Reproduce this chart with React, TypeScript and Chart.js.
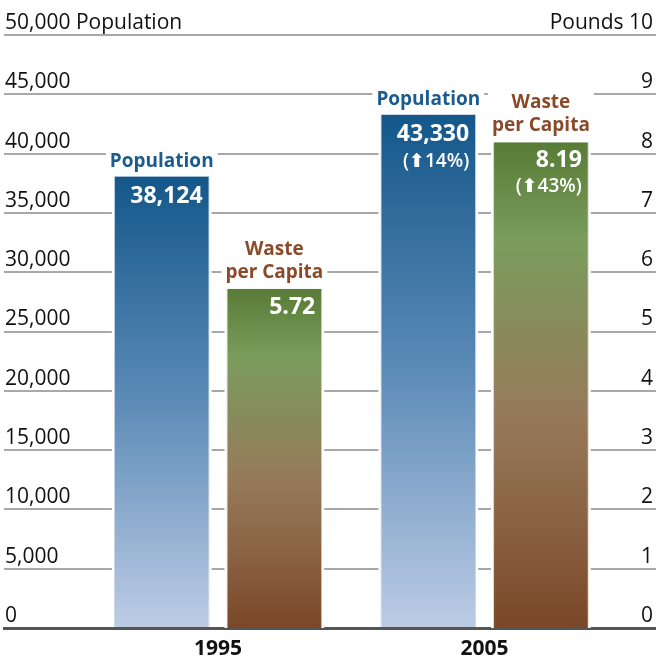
import React, { useEffect, useRef } from 'react';
import { Chart, registerables } from 'chart.js';

Chart.register(...registerables);

// ---- data ----
const years = [1995, 2005];
const population = [38124, 43330];
const wastePerCapita = [5.72, 8.19];
const populationText = ['38,124', '43,330'];
const wasteText = ['5.72', '8.19'];
const populationChange = ['', '14%'];
const wasteChange = ['', '43%'];
const populationName = 'Population';
const wasteNameLines = ['Waste', 'per Capita'];
const leftTopLabel = '50,000 Population';
const rightTopLabel = 'Pounds 10';

const FONT = '"Open Sans", "DejaVu Sans", sans-serif';
const POP_COLOR = '#1b5b8d';
const WASTE_COLOR = '#8a4a2a';

function popFill(ctx: any) {
  const chart = ctx.chart;
  const s = chart.scales && chart.scales.y;
  if (!s || ctx.type !== 'data') return '#5c8bb7';
  const top = s.getPixelForValue(population[ctx.dataIndex]);
  const base = s.getPixelForValue(0);
  if (!isFinite(top) || !isFinite(base)) return '#5c8bb7';
  const g = chart.ctx.createLinearGradient(0, top, 0, base);
  g.addColorStop(0, '#14578a');
  g.addColorStop(0.5, '#5c8bb7');
  g.addColorStop(1, '#bdcce5');
  return g;
}

function wasteFill(ctx: any) {
  const chart = ctx.chart;
  const s = chart.scales && chart.scales.y1;
  if (!s || ctx.type !== 'data') return '#8a8a5c';
  const top = s.getPixelForValue(wastePerCapita[ctx.dataIndex]);
  const base = s.getPixelForValue(0);
  if (!isFinite(top) || !isFinite(base)) return '#8a8a5c';
  const g = chart.ctx.createLinearGradient(0, top, 0, base);
  g.addColorStop(0, '#587b36');
  g.addColorStop(0.2, '#7a9c5c');
  g.addColorStop(0.38, '#888b5c');
  g.addColorStop(0.55, '#967b5b');
  g.addColorStop(0.78, '#8a6244');
  g.addColorStop(1, '#7b4728');
  return g;
}

function barGeom(bar: any) {
  return bar.getProps(['x', 'y', 'base', 'width'], true);
}

const barDecor = {
  id: 'barDecor',
  beforeDatasetsDraw(chart: any) {
    const c = chart.ctx;
    c.save();
    c.fillStyle = '#ffffff';
    chart.data.datasets.forEach((_ds: any, i: number) => {
      chart.getDatasetMeta(i).data.forEach((bar: any) => {
        const { x, y, base, width } = barGeom(bar);
        c.fillRect(x - width / 2 - 2, y - 2, width + 4, base - y + 2);
      });
    });
    c.restore();
  },
  afterDatasetsDraw(chart: any) {
    const c = chart.ctx;
    c.save();
    c.textBaseline = 'alphabetic';
    // population
    chart.getDatasetMeta(0).data.forEach((bar: any, j: number) => {
      const { x, y, width } = barGeom(bar);
      c.font = `bold 19px ${FONT}`;
      const tw = c.measureText(populationName).width;
      c.fillStyle = '#ffffff';
      c.fillRect(x - tw / 2 - 4, y - 9 - 19, tw + 8, 19 + 9 - 2);
      c.fillStyle = POP_COLOR;
      c.textAlign = 'center';
      c.fillText(populationName, x, y - 9);
      c.fillStyle = '#ffffff';
      c.textAlign = 'right';
      c.font = `bold 23px ${FONT}`;
      c.fillText(populationText[j], x + width / 2 - 7, y + 27);
      if (populationChange[j]) {
        c.font = `600 19px ${FONT}`;
        c.fillText(`(\u2B06${populationChange[j]})`, x + width / 2 - 7, y + 53);
      }
    });
    // waste
    chart.getDatasetMeta(1).data.forEach((bar: any, j: number) => {
      const { x, y, width } = barGeom(bar);
      c.font = `bold 19px ${FONT}`;
      const tw = Math.max(...wasteNameLines.map((t) => c.measureText(t).width));
      c.fillStyle = '#ffffff';
      c.fillRect(x - tw / 2 - 4, y - 34 - 19, tw + 8, 19 + 34 - 2);
      c.fillStyle = WASTE_COLOR;
      c.textAlign = 'center';
      c.fillText(wasteNameLines[0], x, y - 34);
      c.fillText(wasteNameLines[1], x, y - 11);
      c.fillStyle = '#ffffff';
      c.textAlign = 'right';
      c.font = `bold 23px ${FONT}`;
      c.fillText(wasteText[j], x + width / 2 - 7, y + 25);
      if (wasteChange[j]) {
        c.font = `600 19px ${FONT}`;
        c.fillText(`(\u2B06${wasteChange[j]})`, x + width / 2 - 7, y + 50);
      }
    });
    c.restore();
  },
};

export default function App() {
  const ref = useRef<HTMLCanvasElement | null>(null);

  useEffect(() => {
    if (!ref.current) return;
    const chart = new Chart(ref.current, {
      type: 'bar',
      data: {
        datasets: [
          {
            label: populationName,
            data: years.map((yr, i) => ({ x: yr, y: population[i] })),
            yAxisID: 'y',
            backgroundColor: popFill,
            borderWidth: { left: 1, right: 1, top: 1, bottom: 0 },
            borderColor: '#cad6e7',
            categoryPercentage: 0.845,
            barPercentage: 0.85,
          },
          {
            label: wasteNameLines.join(' '),
            data: years.map((yr, i) => ({ x: yr, y: wastePerCapita[i] })),
            yAxisID: 'y1',
            backgroundColor: wasteFill,
            borderWidth: { left: 1, right: 1, top: 0, bottom: 0 },
            borderColor: '#dcd2c8',
            categoryPercentage: 0.845,
            barPercentage: 0.85,
          },
        ],
      },
      options: {
        animation: false,
        responsive: false,
        layout: { padding: { top: 35, left: 4, right: 0, bottom: 0 } },
        plugins: {
          legend: { display: false },
          tooltip: { enabled: false },
        },
        scales: {
          x: {
            type: 'linear',
            offset: false,
            min: 1986.97,
            max: 2011.43,
            z: 1,
            afterBuildTicks: (s: any) => {
              s.ticks = years.map((v) => ({ value: v }));
            },
            afterFit: (s: any) => {
              s.height = 30;
            },
            grid: { display: false, drawTicks: false, offset: false },
            border: { display: true, color: '#555555', width: 3 },
            ticks: {
              autoSkip: false,
              maxRotation: 0,
              padding: 8,
              color: '#111111',
              font: { family: FONT, size: 21, weight: 'bold' },
              callback: (v: any) => String(v),
            },
          },
          y: {
            position: 'left',
            min: 0,
            max: 50000,
            afterFit: (s: any) => {
              s.width = 0;
            },
            border: { display: false },
            grid: {
              drawTicks: false,
              color: (ctx: any) => (ctx.tick && ctx.tick.value === 0 ? 'rgba(0,0,0,0)' : '#a8a8a8'),
              lineWidth: 2,
            },
            ticks: {
              stepSize: 5000,
              mirror: true,
              padding: 1,
              labelOffset: -12,
              color: '#111111',
              font: { family: FONT, size: 21 },
              callback: (v: any) =>
                v === 50000 ? leftTopLabel : Number(v).toLocaleString('en-US'),
            },
          },
          y1: {
            position: 'right',
            min: 0,
            max: 10,
            afterFit: (s: any) => {
              s.width = 0;
            },
            border: { display: false },
            grid: { display: false, drawTicks: false },
            ticks: {
              stepSize: 1,
              mirror: true,
              padding: -3,
              labelOffset: -12,
              color: '#111111',
              font: { family: FONT, size: 21 },
              callback: (v: any) => (v === 10 ? rightTopLabel : String(v)),
            },
          },
        },
      },
      plugins: [barDecor],
    } as any);
    return () => chart.destroy();
  }, []);

  return (
    <div style={{ position: 'absolute', left: 0, top: 0, width: 656, height: 658, background: '#ffffff' }}>
      <canvas ref={ref} width={656} height={658} style={{ display: 'block' }} />
    </div>
  );
}
